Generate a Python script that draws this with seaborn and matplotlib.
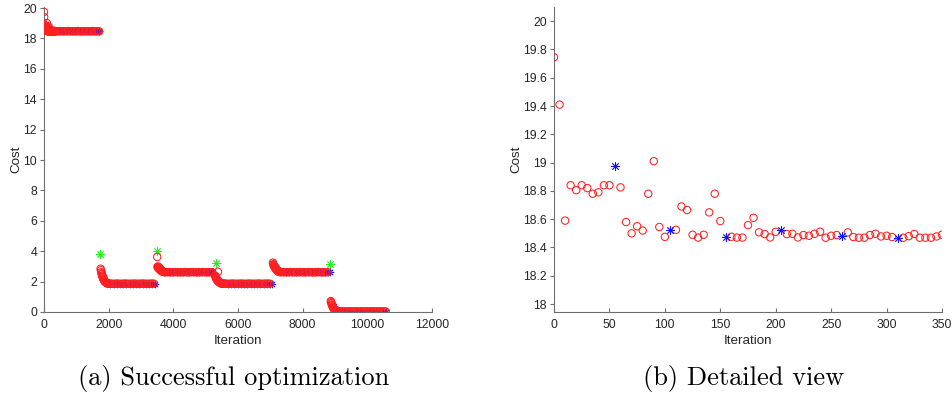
import numpy as np
import pandas as pd
import matplotlib
matplotlib.use("Agg")
import matplotlib.pyplot as plt
import seaborn as sns

# ---------------- data ----------------
# Detailed view (first optimisation run, iterations 0-350)
detail_iter = [0, 5, 10, 15, 20, 25, 30, 35, 40, 45, 50, 60, 65, 70, 75, 80, 85, 90, 95, 100,
               110, 115, 120, 125, 130, 135, 140, 145, 150, 160, 165, 170, 175, 180, 185, 190,
               195, 200, 210, 215, 220, 225, 230, 235, 240, 245, 250, 255, 265, 270, 275, 280,
               285, 290, 295, 300, 305, 315, 320, 325, 330, 335, 340, 345, 350]
detail_cost = [19.745, 19.41, 18.59, 18.84, 18.805, 18.84, 18.82, 18.78, 18.79, 18.84, 18.84,
               18.825, 18.58, 18.50, 18.55, 18.52, 18.78, 19.01, 18.545, 18.475,
               18.525, 18.69, 18.665, 18.49, 18.47, 18.49, 18.648, 18.78, 18.587,
               18.476, 18.47, 18.47, 18.558, 18.61, 18.507, 18.495, 18.471, 18.511,
               18.495, 18.497, 18.471, 18.488, 18.483, 18.497, 18.511, 18.469, 18.483, 18.488,
               18.507, 18.474, 18.469, 18.469, 18.488, 18.497, 18.478, 18.483, 18.474,
               18.469, 18.48, 18.495, 18.469, 18.469, 18.469, 18.478, 18.49]
detail_star_iter = [55, 105, 155, 205, 260, 310]
detail_star_cost = [18.978, 18.523, 18.471, 18.521, 18.483, 18.469]

# Rest of the first run (iterations 400-1700, every 50)
run1_flat_cost = [18.48, 18.47, 18.49, 18.47, 18.48, 18.47, 18.47, 18.49, 18.48, 18.47,
                  18.47, 18.48, 18.47, 18.49, 18.47, 18.47, 18.48, 18.47, 18.47, 18.48,
                  18.47, 18.47, 18.49, 18.47, 18.47, 18.48, 18.47]
run1_star_cost = [18.46, 18.46, 18.47, 18.46, 18.46, 18.47, 18.46, 18.46, 18.46, 18.47,
                  18.46, 18.46, 18.46, 18.47]

# Later runs (overview only)
run_start = [1750, 3500, 5290, 7080, 8870]
run_end = [3440, 5230, 7040, 8830, 10570]
run_end_cost = [1.84, 2.60, 1.84, 2.60, 0.02]
restart_iter = [1725, 3480, 5310, 7090, 8855]
restart_cost = [3.80, 4.04, 3.20, 3.25, 3.15]

# first 250 iterations of each run, every 10
run_transient = [
    [2.85, 2.75, 2.62, 2.50, 2.55, 2.40, 2.32, 2.25, 2.30, 2.15, 2.10, 2.12, 2.05, 2.00, 2.02,
     1.97, 1.95, 1.93, 1.92, 1.90, 1.90, 1.89, 1.88, 1.88, 1.87],
    [3.62, 2.95, 3.00, 2.92, 2.88, 2.95, 2.85, 2.82, 2.90, 2.78, 2.75, 2.80, 2.72, 2.70, 2.68,
     2.70, 2.67, 2.66, 2.65, 2.65, 2.64, 2.64, 2.63, 2.63, 2.63],
    [2.40, 2.35, 2.30, 2.25, 2.20, 2.15, 2.12, 2.10, 2.05, 2.65, 2.02, 2.00, 1.98, 1.96, 1.95,
     1.93, 1.92, 1.90, 1.90, 1.89, 1.88, 1.88, 1.87, 1.87, 1.86],
    [3.25, 3.15, 3.10, 3.05, 3.00, 2.95, 2.98, 2.90, 2.85, 2.88, 2.80, 2.78, 2.75, 2.72, 2.70,
     2.70, 2.68, 2.67, 2.66, 2.65, 2.65, 2.64, 2.64, 2.63, 2.63],
    [0.72, 0.65, 0.58, 0.50, 0.45, 0.40, 0.35, 0.30, 0.27, 0.24, 0.20, 0.18, 0.15, 0.13, 0.12,
     0.10, 0.09, 0.08, 0.07, 0.06, 0.06, 0.05, 0.05, 0.05, 0.04],
]
# remaining iterations of each run, every 50
run_flat = [
    [1.86, 1.87, 1.86, 1.85, 1.86, 1.87, 1.86, 1.86, 1.85, 1.86, 1.87, 1.86, 1.86, 1.85, 1.86,
     1.86, 1.87, 1.86, 1.85, 1.86, 1.86, 1.87, 1.86, 1.86, 1.85, 1.86, 1.86, 1.87, 1.86],
    [2.62, 2.63, 2.62, 2.62, 2.61, 2.62, 2.63, 2.62, 2.62, 2.61, 2.62, 2.62, 2.63, 2.62, 2.62,
     2.61, 2.62, 2.63, 2.62, 2.62, 2.61, 2.62, 2.62, 2.63, 2.62, 2.62, 2.61, 2.62, 2.62, 2.62],
    [1.86, 1.87, 1.86, 1.85, 1.86, 1.86, 1.87, 1.86, 1.85, 1.86, 1.86, 1.87, 1.86, 1.86, 1.85,
     1.86, 1.87, 1.86, 1.86, 1.85, 1.86, 1.86, 1.87, 1.86, 1.85, 1.86, 1.86, 1.87, 1.86, 1.86],
    [2.62, 2.63, 2.62, 2.62, 2.61, 2.62, 2.63, 2.62, 2.62, 2.61, 2.62, 2.62, 2.63, 2.62, 2.62,
     2.61, 2.62, 2.63, 2.62, 2.62, 2.61, 2.62, 2.62, 2.63, 2.62, 2.62, 2.61, 2.62, 2.62, 2.62],
    [0.04, 0.04, 0.03, 0.04, 0.04, 0.03, 0.04, 0.04, 0.04, 0.03, 0.04, 0.04, 0.03, 0.04, 0.04,
     0.04, 0.03, 0.04, 0.04, 0.03, 0.04, 0.04, 0.04, 0.03, 0.04, 0.04, 0.03, 0.04, 0.04, 0.03],
]
# blue markers every 100 iterations of each run
run_star = [
    [2.05, 1.92, 1.86, 1.85, 1.85, 1.85, 1.84, 1.85, 1.84, 1.85, 1.84, 1.85, 1.84, 1.84, 1.85, 1.84],
    [2.80, 2.66, 2.62, 2.61, 2.61, 2.61, 2.60, 2.61, 2.60, 2.61, 2.61, 2.60, 2.61, 2.60, 2.61, 2.60, 2.61],
    [2.15, 1.95, 1.88, 1.85, 1.85, 1.84, 1.85, 1.84, 1.85, 1.84, 1.85, 1.84, 1.85, 1.84, 1.85, 1.84, 1.84],
    [2.95, 2.72, 2.64, 2.61, 2.61, 2.60, 2.61, 2.60, 2.61, 2.60, 2.61, 2.61, 2.60, 2.61, 2.60, 2.61, 2.60],
    [0.40, 0.12, 0.05, 0.03, 0.03, 0.02, 0.03, 0.02, 0.03, 0.02, 0.03, 0.02, 0.03, 0.02, 0.03, 0.02],
]

x_ticks_a = [0, 2000, 4000, 6000, 8000, 10000, 12000]
y_ticks_a = [0, 2, 4, 6, 8, 10, 12, 14, 16, 18, 20]
x_ticks_b = [0, 50, 100, 150, 200, 250, 300, 350]
y_ticks_b = [18, 18.2, 18.4, 18.6, 18.8, 19, 19.2, 19.4, 19.6, 19.8, 20]
y_labels_b = ["18", "18.2", "18.4", "18.6", "18.8", "19", "19.2", "19.4", "19.6", "19.8", "20"]

# ---------------- build tables ----------------
circ_rows = [(i, c) for i, c in zip(detail_iter, detail_cost)]
circ_rows += [(400 + 50 * k, c) for k, c in enumerate(run1_flat_cost)]
star_rows = [(i, c) for i, c in zip(detail_star_iter, detail_star_cost)]
star_rows += [(400 + 100 * k, c) for k, c in enumerate(run1_star_cost)]
star_rows.append((1700, 18.47))
for s, e, ec, tr, fl, st in zip(run_start, run_end, run_end_cost, run_transient, run_flat, run_star):
    circ_rows += [(s + 10 * k, c) for k, c in enumerate(tr)]
    circ_rows += [(s + 250 + 50 * k, c) for k, c in enumerate(fl)]
    star_rows += [(s + 100 * (k + 1), c) for k, c in enumerate(st)]
    star_rows.append((e, ec))
circ_df = pd.DataFrame(circ_rows, columns=["Iteration", "Cost"])
star_df = pd.DataFrame(star_rows, columns=["Iteration", "Cost"])
green_df = pd.DataFrame({"Iteration": restart_iter, "Cost": restart_cost})
det_df = pd.DataFrame({"Iteration": detail_iter, "Cost": detail_cost})
det_star_df = pd.DataFrame({"Iteration": detail_star_iter, "Cost": detail_star_cost})

# ---------------- drawing ----------------
sns.set_theme(style="ticks")
plt.rcParams["font.family"] = ["Liberation Sans", "DejaVu Sans"]
TXT = "#262626"
AX = "#6e6e6e"
asterisk = (8, 2, 0)

fig = plt.figure(figsize=(9.53, 3.98), dpi=100)
axA = fig.add_axes([44 / 953, 86 / 398, 388 / 953, 305 / 398])
axB = fig.add_axes([554 / 953, 86 / 398, 388 / 953, 305 / 398])

circ_kw = dict(marker="o", facecolors="none", edgecolors="#ff2020", linewidths=0.75, s=28)

# left: overview
sns.scatterplot(data=green_df, x="Iteration", y="Cost", ax=axA, marker=asterisk,
                color="#22ee22", edgecolor="#22ee22", linewidth=0.6, s=32, zorder=2)
sns.scatterplot(data=star_df, x="Iteration", y="Cost", ax=axA, marker=asterisk,
                color="#1010ff", edgecolor="#1010ff", linewidth=0.6, s=24, zorder=2)
sns.scatterplot(data=circ_df, x="Iteration", y="Cost", ax=axA, zorder=3, **circ_kw)

# right: detailed view
sns.scatterplot(data=det_df, x="Iteration", y="Cost", ax=axB, zorder=3, **circ_kw)
sns.scatterplot(data=det_star_df, x="Iteration", y="Cost", ax=axB, marker=asterisk,
                color="#1010ff", edgecolor="#1010ff", linewidth=0.6, s=32, zorder=4)

axA.set_xlim(0, 12000)
axA.set_ylim(0, 20.07)
axA.set_xticks(x_ticks_a)
axA.set_yticks(y_ticks_a)
axB.set_xlim(0, 350)
axB.set_ylim(17.944, 20.1)
axB.set_xticks(x_ticks_b)
axB.set_yticks(y_ticks_b)
axB.set_yticklabels(y_labels_b)

for ax in (axA, axB):
    sns.despine(ax=ax)
    for sp in ("left", "bottom"):
        ax.spines[sp].set_color(AX)
        ax.spines[sp].set_linewidth(0.8)
    ax.tick_params(axis="x", direction="in", length=3, width=0.8, color=AX,
                   labelsize=8.8, labelcolor=TXT, pad=5)
    ax.tick_params(axis="y", direction="out", length=3, width=0.8, color=AX,
                   labelsize=8.8, labelcolor=TXT, pad=2)
    ax.set_xlabel("Iteration", fontsize=9.6, color=TXT, labelpad=3)
    ax.set_ylabel("Cost", fontsize=9.6, color=TXT, labelpad=1)
    ax.set_facecolor("white")

fig.text(234 / 953, 20 / 398, "(a) Successful optimization", ha="center", va="center",
         fontsize=19, family="cmr10", color="black")
fig.text(744 / 953, 20 / 398, "(b) Detailed view", ha="center", va="center",
         fontsize=19, family="cmr10", color="black")

fig.savefig("out.png", dpi=100, facecolor="white")
